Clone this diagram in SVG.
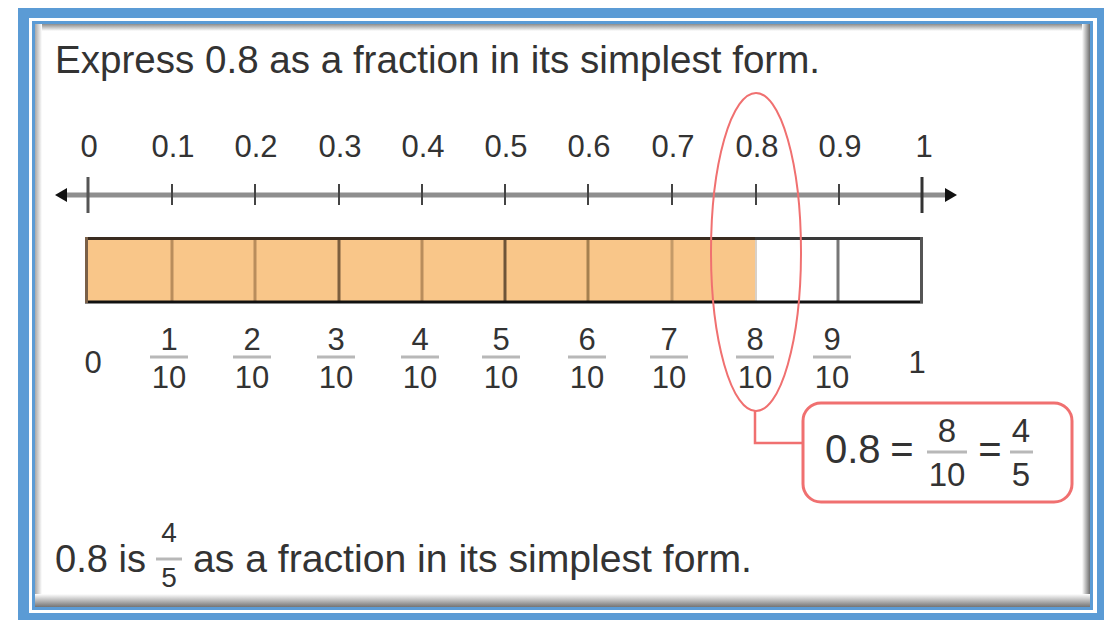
<svg xmlns="http://www.w3.org/2000/svg" width="1104" height="620" viewBox="0 0 1104 620">
<defs>
<linearGradient id="gTop" x1="0" y1="0" x2="0" y2="1"><stop offset="0" stop-color="#8c8c8c"/><stop offset="1" stop-color="#ffffff"/></linearGradient>
<linearGradient id="gLeft" x1="0" y1="0" x2="1" y2="0"><stop offset="0" stop-color="#a8a8a8"/><stop offset="1" stop-color="#ffffff"/></linearGradient>
<linearGradient id="gRight" x1="0" y1="0" x2="1" y2="0"><stop offset="0" stop-color="#ffffff"/><stop offset="1" stop-color="#6e6e6e"/></linearGradient>
<linearGradient id="gBottom" x1="0" y1="0" x2="0" y2="1"><stop offset="0" stop-color="#ffffff"/><stop offset="1" stop-color="#747474"/></linearGradient>
<style>
.t{font-family:"Liberation Sans",Arial,sans-serif;fill:#333333}
.big{font-size:38px}
.lab{font-size:31px;text-anchor:middle}
.fr{font-size:31px;text-anchor:middle}
.fbar{stroke:#b8b8b8;stroke-width:3}
.tick{stroke:#444444;stroke-width:2}
.div{stroke-width:3}
.red{fill:none;stroke:#f07070}
</style>
</defs>
<g id="frame">
<rect x="18" y="8" width="1090" height="616" fill="#5b9bd5"/>
<rect x="29" y="18" width="1068" height="595" fill="#ffffff"/>
<rect x="32" y="21" width="1061" height="589" fill="#5b9bd5"/>
<rect x="35" y="24" width="1055" height="583" fill="#ffffff"/>
<rect x="35" y="24" width="1055" height="7" fill="url(#gTop)"/>
<rect x="35" y="24" width="7" height="583" fill="url(#gLeft)"/>
<rect x="1082" y="24" width="8" height="583" fill="url(#gRight)"/>
<rect x="35" y="594" width="1055" height="13" fill="url(#gBottom)"/>
</g>
<g id="title">
<text class="t big" x="55" y="73" textLength="765" lengthAdjust="spacingAndGlyphs">Express 0.8 as a fraction in its simplest form.</text>
</g>
<g id="numberline">
<line x1="60" y1="195" x2="952" y2="195" stroke="#8e8e8e" stroke-width="5"/>
<polygon points="55,195 67,188 67,202" fill="#111"/>
<polygon points="957,195 945,188 945,202" fill="#111"/>
<line x1="88" y1="177" x2="88" y2="213" stroke="#555" stroke-width="3"/>
<line x1="922" y1="177" x2="922" y2="213" stroke="#333" stroke-width="3"/>
<line class="tick" x1="172" y1="184" x2="172" y2="205"/>
<line class="tick" x1="255" y1="184" x2="255" y2="205"/>
<line class="tick" x1="339" y1="184" x2="339" y2="205"/>
<line class="tick" x1="422" y1="184" x2="422" y2="205"/>
<line class="tick" x1="505" y1="184" x2="505" y2="205"/>
<line class="tick" x1="588" y1="184" x2="588" y2="205"/>
<line class="tick" x1="672" y1="184" x2="672" y2="205"/>
<line class="tick" x1="756" y1="184" x2="756" y2="205"/>
<line class="tick" x1="839" y1="184" x2="839" y2="205"/>
<text class="t lab" x="89" y="157">0</text>
<text class="t lab" x="173" y="157">0.1</text>
<text class="t lab" x="256" y="157">0.2</text>
<text class="t lab" x="340" y="157">0.3</text>
<text class="t lab" x="423" y="157">0.4</text>
<text class="t lab" x="506" y="157">0.5</text>
<text class="t lab" x="589" y="157">0.6</text>
<text class="t lab" x="673" y="157">0.7</text>
<text class="t lab" x="757" y="157">0.8</text>
<text class="t lab" x="840" y="157">0.9</text>
<text class="t lab" x="924" y="157">1</text>
</g>
<g id="bar">
<rect x="85" y="237" width="670" height="66" fill="#f9c689"/>
<rect x="755" y="237" width="168" height="66" fill="#ffffff"/>
<line class="div" x1="172" y1="238" x2="172" y2="302" stroke="#b98d5c"/>
<line class="div" x1="255" y1="238" x2="255" y2="302" stroke="#b98d5c"/>
<line class="div" x1="339" y1="238" x2="339" y2="302" stroke="#7d5f3e"/>
<line class="div" x1="422" y1="238" x2="422" y2="302" stroke="#b98d5c"/>
<line class="div" x1="505" y1="238" x2="505" y2="302" stroke="#6e5438"/>
<line class="div" x1="588" y1="238" x2="588" y2="302" stroke="#a5804f"/>
<line class="div" x1="672" y1="238" x2="672" y2="302" stroke="#c49a68"/>
<line x1="756" y1="238" x2="756" y2="302" stroke="#d8d0c8" stroke-width="2"/>
<line class="div" x1="838" y1="238" x2="838" y2="302" stroke="#777777"/>
<line x1="85" y1="238.5" x2="755" y2="238.5" stroke="#3a2c20" stroke-width="3"/>
<line x1="755" y1="238.5" x2="923" y2="238.5" stroke="#3a3a3a" stroke-width="3"/>
<line x1="85" y1="302" x2="923" y2="302" stroke="#111111" stroke-width="3"/>
<line x1="86.5" y1="237" x2="86.5" y2="303" stroke="#7a6048" stroke-width="3"/>
<line x1="921.5" y1="237" x2="921.5" y2="303" stroke="#555555" stroke-width="3"/>
</g>
<g id="fractions">
<text class="t fr" x="93" y="373">0</text>
<text class="t fr" x="169" y="350">1</text><line class="fbar" x1="150" y1="357" x2="188" y2="357"/><text class="t fr" x="169" y="388">10</text>
<text class="t fr" x="252" y="350">2</text><line class="fbar" x1="233" y1="357" x2="271" y2="357"/><text class="t fr" x="252" y="388">10</text>
<text class="t fr" x="336" y="350">3</text><line class="fbar" x1="317" y1="357" x2="355" y2="357"/><text class="t fr" x="336" y="388">10</text>
<text class="t fr" x="420" y="350">4</text><line class="fbar" x1="401" y1="357" x2="439" y2="357"/><text class="t fr" x="420" y="388">10</text>
<text class="t fr" x="501" y="350">5</text><line class="fbar" x1="482" y1="357" x2="520" y2="357"/><text class="t fr" x="501" y="388">10</text>
<text class="t fr" x="587" y="350">6</text><line class="fbar" x1="568" y1="357" x2="606" y2="357"/><text class="t fr" x="587" y="388">10</text>
<text class="t fr" x="669" y="350">7</text><line class="fbar" x1="650" y1="357" x2="688" y2="357"/><text class="t fr" x="669" y="388">10</text>
<text class="t fr" x="755" y="350">8</text><line class="fbar" x1="736" y1="357" x2="774" y2="357"/><text class="t fr" x="755" y="388">10</text>
<text class="t fr" x="832" y="350">9</text><line class="fbar" x1="813" y1="357" x2="851" y2="357"/><text class="t fr" x="832" y="388">10</text>
<text class="t fr" x="917" y="373">1</text>
</g>
<g id="highlight">
<ellipse class="red" cx="756" cy="252" rx="45" ry="159" stroke-width="2"/>
</g>
<g id="connectors">
<polyline class="red" points="755,411 755,443 803,443" stroke-width="2.5"/>
</g>
<g id="callout">
<rect class="red" x="803" y="403" width="269" height="99" rx="18" stroke-width="3"/>
<text class="t" x="825" y="463" font-size="40">0.8</text>
<text class="t" x="902" y="463" font-size="40" text-anchor="middle">=</text>
<text class="t" x="947" y="442" font-size="33" text-anchor="middle">8</text>
<line class="fbar" x1="927" y1="452" x2="967" y2="452"/>
<text class="t" x="947" y="486" font-size="33" text-anchor="middle">10</text>
<text class="t" x="990" y="463" font-size="40" text-anchor="middle">=</text>
<text class="t" x="1021" y="442" font-size="33" text-anchor="middle">4</text>
<line class="fbar" x1="1010" y1="452" x2="1033" y2="452"/>
<text class="t" x="1021" y="486" font-size="33" text-anchor="middle">5</text>
</g>
<g id="answer">
<text class="t big" x="55" y="572" textLength="91" lengthAdjust="spacingAndGlyphs">0.8 is</text>
<text class="t" x="169" y="542" font-size="28" text-anchor="middle">4</text>
<line class="fbar" x1="156" y1="559" x2="182" y2="559"/>
<text class="t" x="169" y="587" font-size="28" text-anchor="middle">5</text>
<text class="t big" x="193" y="572" textLength="559" lengthAdjust="spacingAndGlyphs">as a fraction in its simplest form.</text>
</g>
</svg>
